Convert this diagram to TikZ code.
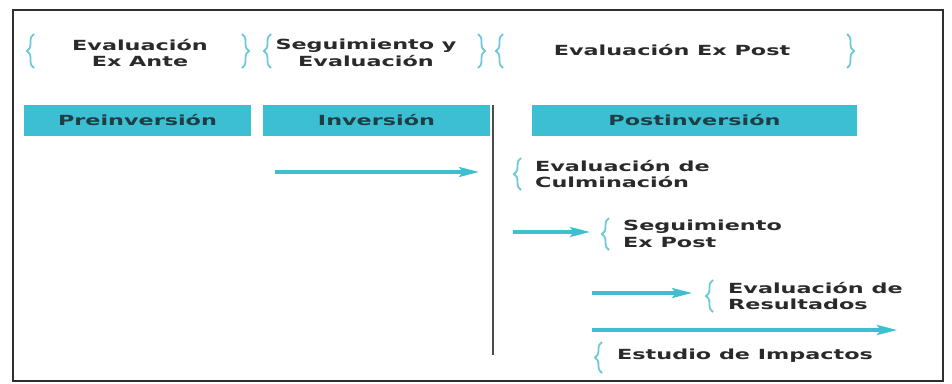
\documentclass[tikz,border=0pt]{standalone}
\usepackage{fontspec}
\setmainfont{DejaVu Sans}[FakeStretch=1.6]
\usetikzlibrary{arrows.meta,decorations.pathreplacing}
\definecolor{barc}{HTML}{3CBFD2}
\definecolor{bart}{HTML}{1E3E44}
\definecolor{bracec}{HTML}{6CCAD8}
\definecolor{arrc}{HTML}{3DBFCF}
\definecolor{txtc}{HTML}{2A2A2A}
\definecolor{framec}{HTML}{303030}
\tikzset{
  lbl/.style={font=\bfseries\fontsize{14}{17}\selectfont, text=txtc, inner sep=0pt},
  lblc/.style={lbl, align=center},
  lbll/.style={lbl, align=left, anchor=west},
  phase/.style={fill=barc, draw=none, font=\bfseries\fontsize{14}{16}\selectfont, text=bart},
  brc/.style={draw=bracec, line width=1.8bp, decorate, decoration={brace, amplitude=7bp}},
  arr/.style={draw=arrc, line width=3.2bp, -{Stealth[length=20bp,width=10bp,inset=4bp]}},
  sep/.style={draw=black!70, line width=1.5bp}
}
\begin{document}
\begin{tikzpicture}[x=1bp,y=-1bp]
\useasboundingbox (0,0) rectangle (952,383);
\fill[white] (0,0) rectangle (952,383);
\draw[framec, line width=2.5bp] (13,10) rectangle (943,381);

% top labels
\node[lblc] (exante) at (140,53) {Evaluación\\Ex Ante};
\node[lblc] (seg) at (366,53) {Seguimiento y\\Evaluación};
\node[lblc] (expost) at (672,50) {Evaluación Ex Post};
\draw[brc] (34,68) -- (34,34);
\draw[brc] (242,34) -- (242,68);
\draw[brc] (271,68) -- (271,34);
\draw[brc] (478,34) -- (478,68);
\draw[brc] (503,68) -- (503,34);
\draw[brc] (847,34) -- (847,68);

% phase bars
\node[phase, minimum width=227bp, minimum height=31bp] (pre) at (137.5,120.5) {Preinversión};
\node[phase, minimum width=227bp, minimum height=31bp] (inv) at (376.5,120.5) {Inversión};
\node[phase, minimum width=325bp, minimum height=31bp] (post) at (694.5,120.5) {Postinversión};

% separator
\coordinate (s1) at (493,105);
\coordinate (s2) at (493,355);
\draw[sep] (s1) -- (s2);

% post labels
\node[lbll] (culm) at (535,174) {Evaluación de\\Culminación};
\node[lbll] (sexp) at (623,234) {Seguimiento\\Ex Post};
\node[lbll] (res) at (728,296) {Evaluación de\\Resultados};
\node[lbll] (imp) at (617,356) {Estudio de Impactos};
\draw[brc] (521,190) -- (521,158);
\draw[brc] (609,250) -- (609,218);
\draw[brc] (713,312) -- (713,280);
\draw[brc] (602,373) -- (602,342);

% arrows
\coordinate (a1s) at (275,172);
\coordinate (a1e) at (479,172);
\coordinate (a2s) at (513,232);
\coordinate (a2e) at (590,232);
\coordinate (a3s) at (592,293);
\coordinate (a3e) at (692,293);
\coordinate (a4s) at (592,330);
\coordinate (a4e) at (897,330);
\draw[arr] (a1s) -- (a1e);
\draw[arr] (a2s) -- (a2e);
\draw[arr] (a3s) -- (a3e);
\draw[arr] (a4s) -- (a4e);
\end{tikzpicture}
\end{document}
